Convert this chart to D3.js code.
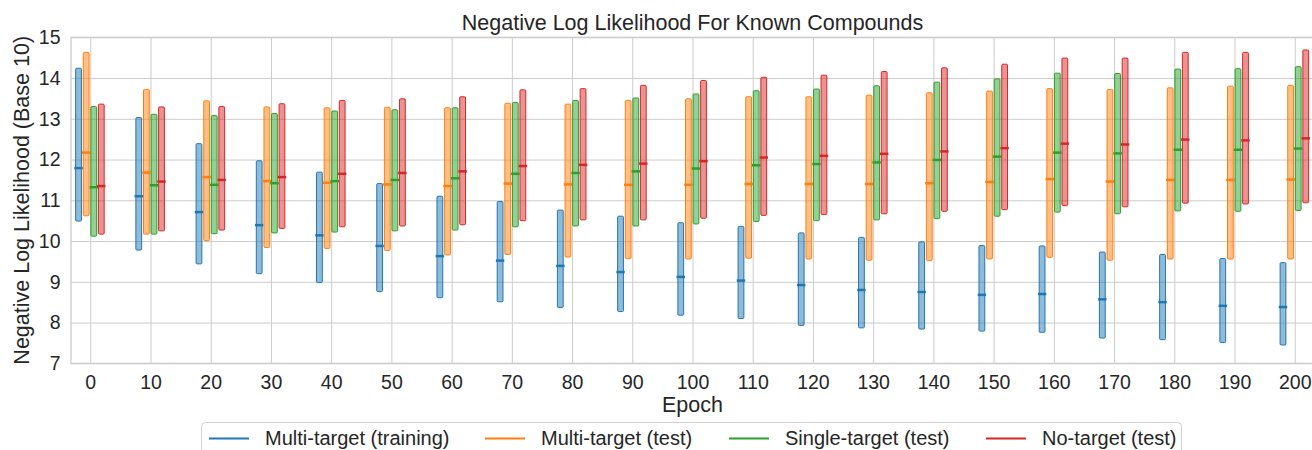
<!DOCTYPE html>
<html>
<head>
<meta charset="utf-8">
<title>Negative Log Likelihood For Known Compounds</title>
<script src="https://cdn.jsdelivr.net/npm/d3@7"></script>
<style>
  body { margin: 0; background: #fff; }
  svg { display: block; font-family: "Liberation Sans", Arial, sans-serif; }
</style>
</head>
<body>
<div id="holder"></div>
<script>
// data
const epochs = [0, 10, 20, 30, 40, 50, 60, 70, 80, 90, 100, 110, 120, 130, 140, 150, 160, 170, 180, 190, 200];
const seriesNames = ["Multi-target (training)", "Multi-target (test)", "Single-target (test)", "No-target (test)"];
const seriesColors = ["#1f77b4", "#ff7f0e", "#2ca02c", "#d62728"];

// [low, mid, high] per epoch
const multiTrain = [
  [10.49, 11.79, 14.24], [9.78, 11.10, 13.03], [9.44, 10.71, 12.39], [9.20, 10.39, 11.97],
  [8.98, 10.14, 11.69], [8.76, 9.88, 11.41], [8.61, 9.63, 11.10], [8.51, 9.52, 10.97],
  [8.37, 9.39, 10.76], [8.27, 9.24, 10.61], [8.18, 9.12, 10.45], [8.10, 9.03, 10.36],
  [7.93, 8.92, 10.20], [7.87, 8.80, 10.09], [7.84, 8.75, 9.98], [7.79, 8.68, 9.89],
  [7.76, 8.70, 9.88], [7.62, 8.57, 9.73], [7.58, 8.50, 9.67], [7.51, 8.41, 9.57],
  [7.45, 8.38, 9.47]
];
const multiTest = [
  [10.62, 12.17, 14.63], [10.17, 11.68, 13.72], [10.01, 11.57, 13.44], [9.84, 11.47, 13.29],
  [9.82, 11.43, 13.27], [9.77, 11.39, 13.28], [9.66, 11.35, 13.27], [9.67, 11.41, 13.38],
  [9.61, 11.39, 13.36], [9.57, 11.38, 13.45], [9.56, 11.38, 13.49], [9.58, 11.40, 13.54],
  [9.56, 11.40, 13.54], [9.53, 11.40, 13.58], [9.52, 11.42, 13.64], [9.56, 11.45, 13.68],
  [9.60, 11.52, 13.74], [9.53, 11.46, 13.72], [9.56, 11.50, 13.76], [9.56, 11.50, 13.80],
  [9.56, 11.51, 13.82]
];
const singleTest = [
  [10.12, 11.32, 13.30], [10.17, 11.37, 13.11], [10.18, 11.38, 13.08], [10.20, 11.42, 13.13],
  [10.22, 11.47, 13.19], [10.25, 11.50, 13.22], [10.27, 11.54, 13.27], [10.35, 11.65, 13.40],
  [10.37, 11.67, 13.45], [10.37, 11.71, 13.51], [10.42, 11.78, 13.61], [10.48, 11.86, 13.69],
  [10.50, 11.89, 13.73], [10.52, 11.93, 13.81], [10.55, 11.99, 13.90], [10.61, 12.07, 13.98],
  [10.71, 12.17, 14.12], [10.67, 12.15, 14.11], [10.74, 12.24, 14.22], [10.73, 12.24, 14.23],
  [10.75, 12.27, 14.28]
];
const noTest = [
  [10.17, 11.35, 13.36], [10.25, 11.46, 13.29], [10.27, 11.50, 13.30], [10.31, 11.57, 13.37],
  [10.35, 11.65, 13.45], [10.37, 11.67, 13.49], [10.40, 11.71, 13.54], [10.50, 11.84, 13.71],
  [10.52, 11.87, 13.74], [10.52, 11.90, 13.82], [10.56, 11.96, 13.94], [10.63, 12.05, 14.02],
  [10.65, 12.09, 14.07], [10.67, 12.14, 14.16], [10.73, 12.20, 14.25], [10.77, 12.28, 14.34],
  [10.87, 12.39, 14.49], [10.84, 12.37, 14.49], [10.93, 12.49, 14.63], [10.91, 12.47, 14.63],
  [10.94, 12.52, 14.69]
];
const allSeries = [multiTrain, multiTest, singleTest, noTest];
const offsets = [-1.95, -0.68, 0.58, 1.83]; // epoch offset of each bar in a group
const yTicks = [7, 8, 9, 10, 11, 12, 13, 14, 15];

const w = 1312, h = 450;
const plotL = 71, plotR = 1314, plotT = 37.3, plotB = 363.3;

const xScale = d3.scaleLinear().domain([-3.2, 203.2]).range([plotL, plotR]);
const yScale = d3.scaleLinear().domain([7, 15]).range([plotB, plotT]);

const svg = d3.select("#holder").append("svg")
  .attr("width", w)
  .attr("height", h);

// grid
const xGrid = d3.axisBottom(xScale).tickValues(epochs).tickSize(-(plotB - plotT)).tickFormat("");
svg.append("g")
  .attr("transform", "translate(0," + plotB + ")")
  .call(xGrid)
  .call(g => g.select(".domain").remove())
  .call(g => g.selectAll("line").attr("stroke", "#cccccc").attr("stroke-width", 1));

const yGrid = d3.axisLeft(yScale).tickValues(yTicks).tickSize(-(plotR - plotL)).tickFormat("");
svg.append("g")
  .attr("transform", "translate(" + plotL + ",0)")
  .call(yGrid)
  .call(g => g.select(".domain").remove())
  .call(g => g.selectAll("line").attr("stroke", "#cccccc").attr("stroke-width", 1));

// frame
svg.append("rect")
  .attr("x", plotL).attr("y", plotT)
  .attr("width", plotR - plotL).attr("height", plotB - plotT)
  .attr("fill", "none")
  .attr("stroke", "#cccccc")
  .attr("stroke-width", 1.3);

// bars
allSeries.forEach((ser, s) => {
  const g = svg.append("g");
  const col = seriesColors[s];
  g.selectAll("rect")
    .data(ser)
    .enter()
    .append("rect")
    .attr("x", (d, i) => xScale(epochs[i] + offsets[s] - 0.48))
    .attr("width", (d, i) => xScale(epochs[i] + offsets[s] + 0.48) - xScale(epochs[i] + offsets[s] - 0.48))
    .attr("y", d => yScale(d[2]))
    .attr("height", d => yScale(d[0]) - yScale(d[2]))
    .attr("rx", 1)
    .attr("fill", col)
    .attr("fill-opacity", 0.5)
    .attr("stroke", col)
    .attr("stroke-width", 1);

  g.selectAll("line")
    .data(ser)
    .enter()
    .append("line")
    .attr("x1", (d, i) => xScale(epochs[i] + offsets[s] - 0.7))
    .attr("x2", (d, i) => xScale(epochs[i] + offsets[s] + 0.7))
    .attr("y1", d => yScale(d[1]))
    .attr("y2", d => yScale(d[1]))
    .attr("stroke", col)
    .attr("stroke-width", 2.5);
});

// axes labels
const xAxis = d3.axisBottom(xScale).tickValues(epochs).tickSize(0).tickPadding(12);
svg.append("g")
  .attr("transform", "translate(0," + plotB + ")")
  .call(xAxis)
  .call(g => g.select(".domain").remove())
  .call(g => g.selectAll("text").attr("font-size", 19.5).attr("fill", "#262626").attr("font-family", "Liberation Sans, Arial, sans-serif"));

const yAxis = d3.axisLeft(yScale).tickValues(yTicks).tickSize(0).tickPadding(10.5);
svg.append("g")
  .attr("transform", "translate(" + plotL + ",0)")
  .call(yAxis)
  .call(g => g.select(".domain").remove())
  .call(g => g.selectAll("text").attr("font-size", 19.5).attr("fill", "#262626").attr("font-family", "Liberation Sans, Arial, sans-serif"));

// title
svg.append("text")
  .attr("x", (plotL + plotR) / 2)
  .attr("y", 30)
  .attr("text-anchor", "middle")
  .attr("font-size", 21.5)
  .attr("fill", "#262626")
  .text("Negative Log Likelihood For Known Compounds");

// x label
svg.append("text")
  .attr("x", (plotL + plotR) / 2)
  .attr("y", 412)
  .attr("text-anchor", "middle")
  .attr("font-size", 21.5)
  .attr("fill", "#262626")
  .text("Epoch");

// y label
svg.append("text")
  .attr("transform", "translate(29," + ((plotT + plotB) / 2) + ") rotate(-90)")
  .attr("text-anchor", "middle")
  .attr("font-size", 21.5)
  .attr("fill", "#262626")
  .text("Negative Log Likelihood (Base 10)");

// legend
const legendX = [209, 485, 729, 986];
const legend = svg.append("g");
legend.append("rect")
  .attr("x", 201.5).attr("y", 422.5)
  .attr("width", 980).attr("height", 40)
  .attr("rx", 4)
  .attr("fill", "#fff")
  .attr("stroke", "#d0d0d0")
  .attr("stroke-width", 1);
seriesNames.forEach((name, i) => {
  legend.append("line")
    .attr("x1", legendX[i]).attr("x2", legendX[i] + 40)
    .attr("y1", 438.5).attr("y2", 438.5)
    .attr("stroke", seriesColors[i])
    .attr("stroke-width", 2);
  legend.append("text")
    .attr("x", legendX[i] + 56)
    .attr("y", 445)
    .attr("font-size", 20)
    .attr("fill", "#262626")
    .text(name);
});
</script>
</body>
</html>
